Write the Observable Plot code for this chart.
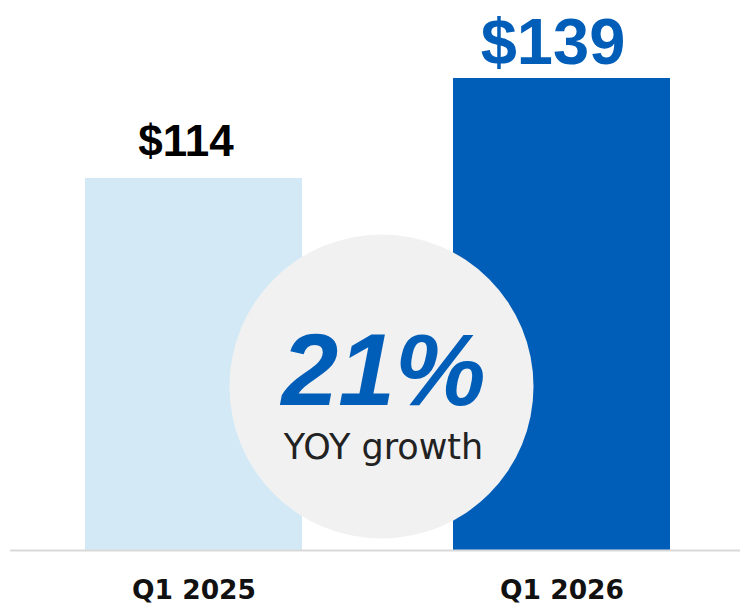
<!DOCTYPE html>
<html>
<head>
<meta charset="utf-8">
<script src="https://cdn.jsdelivr.net/npm/d3@7"></script>
<script src="https://cdn.jsdelivr.net/npm/@observablehq/plot@0.6"></script>
<style>
  html, body { margin: 0; padding: 0; background: #ffffff; }
  #chart { width: 740px; height: 614px; }
</style>
</head>
<body>
<div id="chart"></div>
<script>
const categories = ["Q1 2025", "Q1 2026"];
const values = [114, 139];
const valueLabels = ["$114", "$139"];
const barColors = ["#d3eaf6", "#005eb8"];
const growthLabel = "21%";
const growthSub = "YOY growth";
const axisBase = 21;

const data = categories.map((c, i) => ({cat: c, value: values[i], label: valueLabels[i], color: barColors[i]}));

const chart = Plot.plot({
  width: 740,
  height: 614,
  marginTop: 0,
  marginRight: 0,
  marginBottom: 64,
  marginLeft: 10,
  style: {background: "#ffffff", overflow: "visible"},
  x: {domain: categories, range: [15, 740], paddingInner: 0.41, paddingOuter: 0.19, axis: null},
  y: {domain: [axisBase, 158.5], clamp: true, axis: null},
  marks: [
    Plot.barY(data, {x: "cat", y: "value", fill: "color"}),
    Plot.ruleY([axisBase], {stroke: "#d9d9d9", strokeWidth: 2}),
    Plot.dot([growthLabel], {frameAnchor: "middle", r: 152, fill: "#f1f1f1", stroke: null, dx: 6, dy: 111}),
    Plot.text([growthLabel], {frameAnchor: "middle", text: d => d, dx: 8, dy: 97, fontSize: 102, fontWeight: 700, fontStyle: "italic", fill: "#005eb8", fontFamily: "Liberation Sans, Arial, sans-serif"}),
    Plot.text([growthSub], {frameAnchor: "middle", text: d => d, dx: 8, dy: 172, fontSize: 35, fill: "#222222", fontFamily: "DejaVu Sans, sans-serif"}),
    Plot.text([data[0]], {x: "cat", y: "value", text: "label", dx: -8, dy: -37, fontSize: 44, fontWeight: 700, fill: "#000000", fontFamily: "Liberation Sans, Arial, sans-serif"}),
    Plot.text([data[1]], {x: "cat", y: "value", text: "label", dx: -9, dy: -35, fontSize: 65, fontWeight: 700, fill: "#005eb8", fontFamily: "Liberation Sans, Arial, sans-serif"}),
    Plot.text(data, {x: "cat", frameAnchor: "bottom", text: "cat", dy: 48, fontSize: 26.5, fontWeight: 700, fill: "#111111", fontFamily: "DejaVu Sans, sans-serif"})
  ]
});
document.getElementById("chart").appendChild(chart);
</script>
</body>
</html>
